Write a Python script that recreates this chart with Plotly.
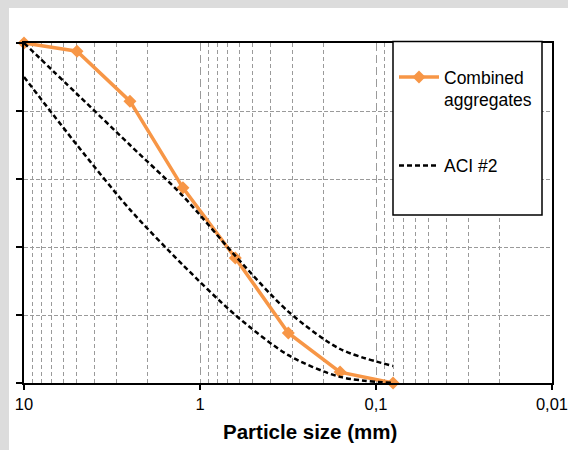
import plotly.graph_objects as go

sizes = [10, 5, 2.5, 1.25, 0.63, 0.315, 0.16, 0.08]
combined = [100, 97.6, 82.9, 57.4, 36.8, 14.7, 3.2, 0]
aci_upper = [100, 85, 70, 55, 37.4, 21, 10, 5]
aci_lower = [90, 70, 51, 34.7, 20, 8.2, 1.8, 0]

x_tickvals = [10, 1, 0.1, 0.01]
x_ticktext = ["10", "1", "0,1", "0,01"]
minor_vals = [m * d for d in (0.01, 0.1, 1) for m in range(2, 10)]
x_title = "Particle size (mm)"

L, R, T, B = 24, 16, 43, 67
W, H = 568, 450
pw, ph = W - L - R, H - T - B

def px_x(p):
    return (p - L) / pw

def px_y(p):
    return (H - B - p) / ph

FONT = "Liberation Sans, Arial, sans-serif"

fig = go.Figure()

fig.add_trace(go.Scatter(
    x=sizes, y=combined, mode="lines+markers", name="Combined<br>aggregates", legendgroup="a",
    line=dict(color="#F79646", width=3.5),
    marker=dict(symbol="diamond", size=10, color="#F79646"),
    cliponaxis=False,
))
fig.add_trace(go.Scatter(
    x=sizes, y=aci_upper, mode="lines", name="ACI #2", legendgroup="b",
    line=dict(color="black", width=2.5, dash="5px,3px", shape="spline", smoothing=0.8),
    cliponaxis=False,
))
fig.add_trace(go.Scatter(
    x=sizes, y=aci_lower, mode="lines", name="ACI #2", legendgroup="b", showlegend=False,
    line=dict(color="black", width=2.5, dash="5px,3px", shape="spline", smoothing=0.8),
    cliponaxis=False,
))

# white panel and legend box
fig.add_shape(type="rect", xref="paper", yref="paper",
              x0=px_x(9), x1=px_x(W + 5), y0=px_y(H + 5), y1=px_y(8),
              fillcolor="white", line=dict(width=0), layer="below")
fig.add_shape(type="rect", xref="paper", yref="paper",
              x0=px_x(393), x1=px_x(542), y0=px_y(215), y1=px_y(41.5),
              fillcolor="white", line=dict(color="black", width=1.5), layer="above")

fig.add_annotation(
    text="<b>" + x_title + "</b>", xref="paper", yref="paper",
    x=px_x(309.5), y=px_y(431), xanchor="center", yanchor="middle", showarrow=False,
    font=dict(family=FONT, size=20.5, color="black"),
)

fig.update_xaxes(
    type="log", range=[1, -2], automargin=False,
    tickvals=x_tickvals, ticktext=x_ticktext, ticklabeloverflow="allow",
    ticks="outside", ticklen=5, tickcolor="black", tickwidth=1.5,
    showline=True, linecolor="black", linewidth=2, mirror=True,
    showgrid=True, gridcolor="#9a9a9a", gridwidth=1, griddash="8px,4px",
    minor=dict(tickvals=minor_vals, showgrid=True, gridcolor="#9a9a9a", gridwidth=1,
               griddash="4px,3px", ticks=""),
    tickfont=dict(family=FONT, size=16.5, color="black"),
    zeroline=False,
)
fig.update_yaxes(
    range=[0, 100], dtick=20, showticklabels=False, automargin=False,
    ticks="outside", ticklen=6, tickcolor="black", tickwidth=1.5,
    showline=True, linecolor="black", linewidth=2, mirror=True,
    showgrid=True, gridcolor="#9a9a9a", gridwidth=1, griddash="4px,2px",
    zeroline=False,
)

fig.update_layout(
    width=W, height=H,
    margin=dict(l=L, r=R, t=T, b=B, autoexpand=False),
    paper_bgcolor="#dcdcdc", plot_bgcolor="white",
    legend=dict(x=px_x(394), y=px_y(59), xanchor="left", yanchor="top",
                bgcolor="rgba(0,0,0,0)", borderwidth=0,
                font=dict(family=FONT, size=17.5, color="black"),
                tracegroupgap=40, valign="top", itemwidth=40, traceorder="grouped"),
    showlegend=True,
)

fig.write_html("out.html")
